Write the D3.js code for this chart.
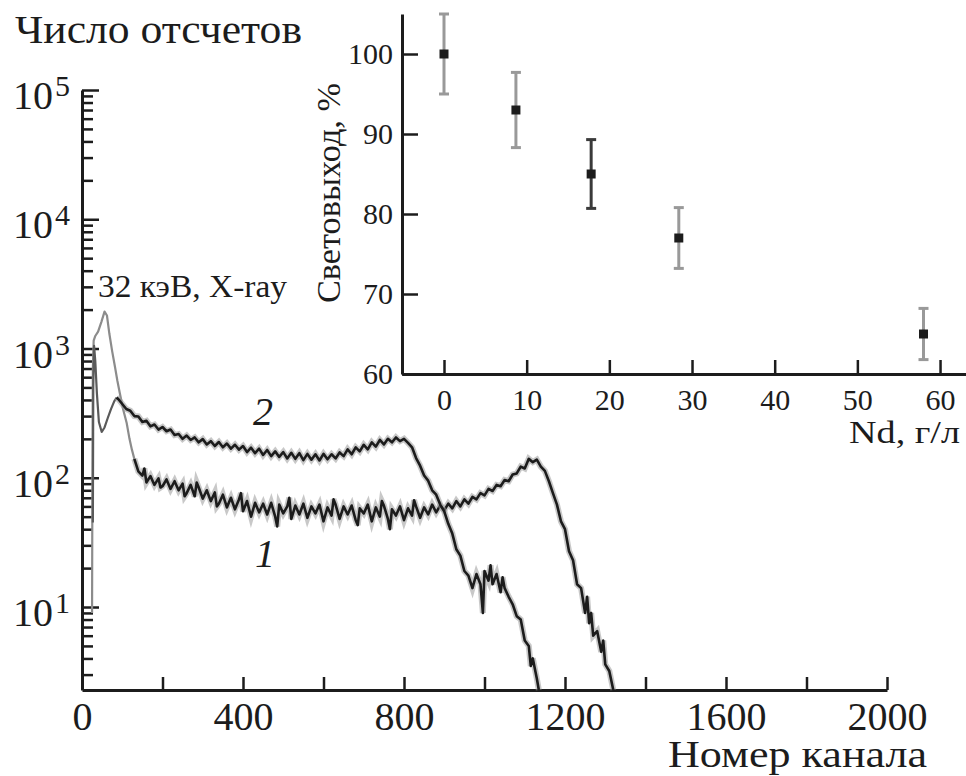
<!DOCTYPE html>
<html>
<head>
<meta charset="utf-8">
<script src="https://cdn.jsdelivr.net/npm/d3@7"></script>
<style>
body{margin:0;background:#fff}
svg{display:block}
</style>
</head>
<body>
<script>
// спектр 1: [номер канала, число отсчетов]
var spectrum1 = [[25,9],[26,150],[27,700],[29,1150],[33,1250],[40,1350],[48,1600],[56,1930],[62,1800],[68,1300],[75,950],[82,720],[88,560],[94,450],[102,340],[111,265],[118,200],[124,165],[130,140],
[140,112],[150,104],[155,118],[160,92],[170,103],[180,88],[190,99],[195,84],[200,86],[210,97],[220,82],[230,94],[240,80],[250,90],[255,72],[260,76],[270,88],[280,72],[285,92],[290,84],[300,69],[310,80],[320,66],[330,77],[335,60],[340,63],[350,74],[360,59],[370,70],[380,57],[390,68],[395,76],[400,55],[410,66],[420,50],[430,64],[440,54],[450,63],[460,52],[470,64],[480,50],[485,42],[490,62],[500,53],[510,60],[515,70],[520,48],[530,61],[540,52],[550,63],[560,49],[570,60],[580,53],[590,62],[600,46],[610,59],[620,51],[625,68],[630,62],[640,48],[650,60],[660,52],[670,61],[680,47],[685,43],[690,58],[700,53],[710,62],[720,46],[730,59],[740,50],[745,66],[750,61],[760,48],[765,40],[770,57],[780,51],[790,60],[800,47],[810,58],[820,51],[825,67],[830,60],[840,49],[850,59],[860,52],[870,62],[880,54],[890,61],[900,56],[910,63],[920,58],[930,66],[940,60],[950,68],[960,63],[970,71],[980,68],[990,76],[1000,73],[1010,82],[1020,79],[1030,88],[1040,86],[1050,96],[1060,94],[1070,106],[1080,108],[1090,122],[1100,118],[1110,140],[1120,132],[1130,138],[1140,122],[1150,113],[1160,94],[1170,76],[1180,62],[1190,46],[1200,40],[1210,27],[1220,23],[1230,15],[1240,14],[1250,9],[1255,12],[1260,7.5],[1265,9],[1270,6],[1280,6.5],[1290,4.5],[1295,5.5],[1300,3.6],[1310,3.2],[1320,2.28]];

// спектр 2
var spectrum2 = [[27,45],[28,500],[30,1050],[33,800],[37,450],[42,270],[49,226],[56,245],[64,290],[72,340],[80,390],[86,418],
[92,400],[100,372],[110,340],[120,330],[130,300],[140,298],[150,270],[160,276],[170,250],[180,258],[190,236],[200,247],[210,229],[220,236],[230,214],[240,218],[250,200],[260,212],[270,196],[280,205],[290,188],[300,199],[310,181],[320,192],[330,176],[340,189],[350,172],[360,184],[370,168],[380,180],[390,165],[400,176],[410,158],[420,171],[430,155],[440,168],[450,150],[460,164],[470,147],[480,160],[490,145],[500,158],[510,141],[520,156],[530,140],[540,155],[550,137],[560,153],[570,138],[580,152],[590,136],[600,153],[610,139],[620,152],[630,141],[640,157],[650,147],[660,166],[670,152],[680,172],[690,160],[700,180],[710,166],[720,188],[730,174],[740,196],[750,181],[760,200],[770,188],[780,205],[790,192],[800,200],[810,186],[820,172],[830,142],[840,124],[850,104],[860,95],[870,80],[880,74],[890,62],[900,55],[910,44],[920,37],[930,28],[940,25],[950,19],[960,17.5],[970,14],[980,18],[990,15],[996,9],[1000,19],[1010,16],[1015,21],[1020,15],[1030,18],[1040,13],[1045,17],[1050,14],[1060,12],[1070,10.5],[1080,8.5],[1090,8],[1100,5.5],[1110,5],[1115,3.5],[1120,4],[1130,2.8],[1135,2.28]];

var chanLabels = [0, 400, 800, 1200, 1600, 2000];
var decades = [1, 2, 3, 4, 5];

// вставка: световыход от концентрации Nd
var ndConc = [0, 8.7, 17.8, 28.4, 58];
var lightYield = [100, 93, 85, 77, 65];
var lightErr = [5, 4.7, 4.3, 3.8, 3.2];
var ndTicks = [0, 10, 20, 30, 40, 50, 60];
var yieldTicks = [60, 70, 80, 90, 100];

var W = 966, H = 776, ink = "#1c1c1c";
var svg = d3.select("body").append("svg").attr("width", W).attr("height", H);

var x = d3.scaleLinear().domain([0, 2000]).range([82, 887]);
var y = d3.scaleLog().domain([2.28, 1e5]).range([690, 90]);

// ось X
var gx = svg.append("g").attr("transform", "translate(0,690)")
  .call(d3.axisBottom(x).tickValues(d3.range(0, 2001, 200))
    .tickSizeInner(-13).tickSizeOuter(0).tickPadding(11.6)
    .tickFormat(function(d){ return chanLabels.indexOf(d) >= 0 ? d : ""; }));
gx.attr("font-size", 40);
gx.select(".domain").attr("stroke", ink).attr("stroke-width", 3);
gx.selectAll(".tick line").attr("stroke", ink).attr("stroke-width", 2.5);

// ось Y (лог)
var yTicks = [];
[0].concat(decades).forEach(function(e){
  for (var k = 1; k < 10; k++) {
    var v = k * Math.pow(10, e);
    if (v >= 2.28 && v <= 1e5) yTicks.push(v);
  }
});
var gy = svg.append("g").attr("transform", "translate(82,0)")
  .call(d3.axisLeft(y).tickValues(yTicks).tickSizeInner(-17).tickSizeOuter(0).tickFormat(""));
gy.select(".domain").attr("stroke", ink).attr("stroke-width", 3);
gy.selectAll(".tick line").attr("stroke", ink).attr("stroke-width", 2.5)
  .attr("x2", function(d){ return Math.abs(Math.log10(d) - Math.round(Math.log10(d))) < 1e-9 ? 17 : 11; });

decades.forEach(function(e){
  var yy = y(Math.pow(10, e));
  svg.append("text").attr("x", 53).attr("y", yy + 19).attr("text-anchor", "end")
    .attr("font-size", 40).text("10");
  svg.append("text").attr("x", 55).attr("y", yy + 6).attr("font-size", 30).text(e);
});

// спектры
var line = d3.line().x(function(d){ return x(d[0]); }).y(function(d){ return y(d[1]); });
function drawSpectrum(data, split, early) {
  var a = data.filter(function(d){ return d[0] <= split; });
  var b = data.filter(function(d){ return d[0] >= split; });
  svg.append("path").datum(a).attr("d", line).attr("fill", "none")
    .attr("stroke", early).attr("stroke-width", 2.2).attr("stroke-linejoin", "round");
  svg.append("path").datum(b).attr("d", line).attr("fill", "none")
    .attr("stroke", "#9a9a9a").attr("stroke-width", 6).attr("stroke-opacity", 0.55);
  svg.append("path").datum(b).attr("d", line).attr("fill", "none")
    .attr("stroke", ink).attr("stroke-width", 2.6).attr("stroke-linejoin", "round");
}
drawSpectrum(spectrum1, 130, "#8c8c8c");
drawSpectrum(spectrum2, 86, "#5a5a5a");

// подписи
svg.append("text").attr("x", 15).attr("y", 43).attr("font-size", 40)
  .attr("textLength", 287).attr("lengthAdjust", "spacingAndGlyphs").text("Число отсчетов");
svg.append("text").attr("x", 668).attr("y", 767).attr("font-size", 38)
  .attr("textLength", 259).attr("lengthAdjust", "spacingAndGlyphs").text("Номер канала");
svg.append("text").attr("x", 98).attr("y", 297).attr("font-size", 32)
  .attr("textLength", 189).attr("lengthAdjust", "spacingAndGlyphs").text("32 кэВ, X-ray");
svg.append("text").attr("x", 263).attr("y", 425).attr("font-size", 40)
  .attr("font-style", "italic").attr("text-anchor", "middle").text("2");
svg.append("text").attr("x", 265).attr("y", 567).attr("font-size", 40)
  .attr("font-style", "italic").attr("text-anchor", "middle").text("1");

// вставка
var xi = d3.scaleLinear().domain([-5.08, 63.14]).range([402, 966]);
var yi = d3.scaleLinear().domain([60, 105]).range([374, 14]);

var gxi = svg.append("g").attr("transform", "translate(0,374)")
  .call(d3.axisBottom(xi).tickValues(ndTicks).tickSizeInner(-14).tickSizeOuter(0).tickPadding(14.7));
gxi.attr("font-size", 30);
gxi.select(".domain").attr("stroke", ink).attr("stroke-width", 3);
gxi.selectAll(".tick line").attr("stroke", ink).attr("stroke-width", 2.5);

var gyi = svg.append("g").attr("transform", "translate(402,0)")
  .call(d3.axisLeft(yi).tickValues(yieldTicks).tickSizeInner(-16).tickSizeOuter(0).tickPadding(9));
gyi.attr("font-size", 30);
gyi.select(".domain").attr("stroke", ink).attr("stroke-width", 3);
gyi.selectAll(".tick line").attr("stroke", ink).attr("stroke-width", 2.5);

var pts = svg.append("g").selectAll("g").data(ndConc).enter().append("g");
pts.each(function(c, i){
  var g = d3.select(this), cx = xi(c);
  var col = i === 2 ? "#3a3a3a" : "#999";
  var top = yi(lightYield[i] + lightErr[i]), bot = yi(lightYield[i] - lightErr[i]);
  g.append("line").attr("x1", cx).attr("x2", cx).attr("y1", top).attr("y2", bot)
    .attr("stroke", col).attr("stroke-width", 3);
  [top, bot].forEach(function(yy){
    g.append("line").attr("x1", cx - 5).attr("x2", cx + 5).attr("y1", yy).attr("y2", yy)
      .attr("stroke", col).attr("stroke-width", 3);
  });
  g.append("rect").attr("x", cx - 4.5).attr("y", yi(lightYield[i]) - 4.5)
    .attr("width", 9).attr("height", 9).attr("fill", ink);
});

svg.append("text").attr("x", 960).attr("y", 443).attr("font-size", 32).attr("text-anchor", "end")
  .attr("textLength", 111).attr("lengthAdjust", "spacingAndGlyphs").text("Nd, г/л");
svg.append("text").attr("transform", "translate(340,193) rotate(-90)").attr("text-anchor", "middle")
  .attr("font-size", 34).attr("textLength", 220).attr("lengthAdjust", "spacingAndGlyphs")
  .text("Световыход, %");

svg.selectAll("text").style("font-family", "'Liberation Serif', serif").style("fill", ink);
</script>
</body>
</html>
